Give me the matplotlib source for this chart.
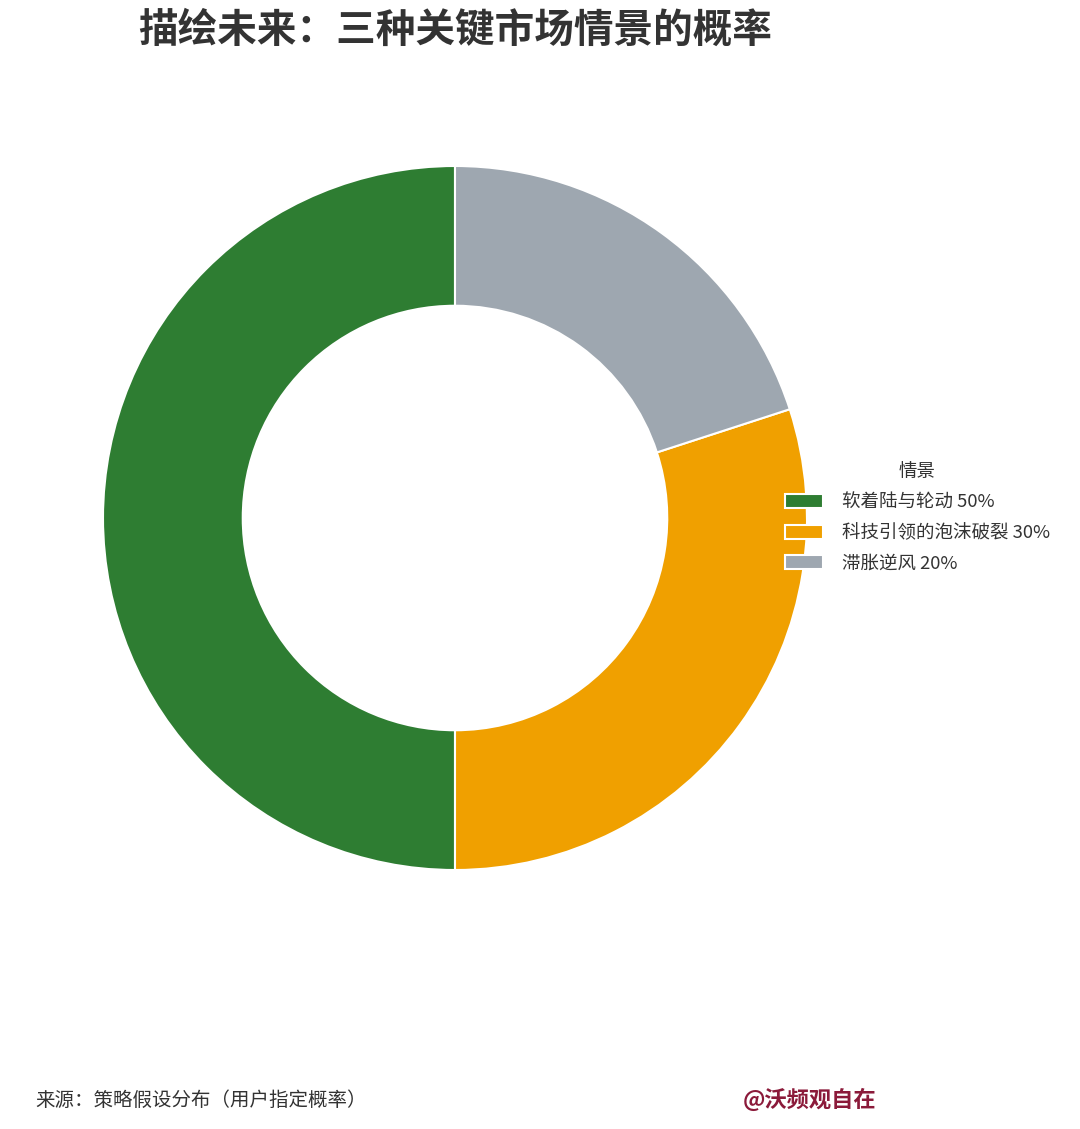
import matplotlib
matplotlib.use("Agg")
import matplotlib.pyplot as plt

plt.rcParams['font.family'] = ['Noto Sans CJK SC', 'DejaVu Sans']

labels = ["软着陆与轮动", "科技引领的泡沫破裂", "滞胀逆风"]
values = [50, 30, 20]
colors = ["#2E7D32", "#F0A000", "#9EA7B0"]
title = "描绘未来：三种关键市场情景的概率"
legend_title = "情景"
source = "来源：策略假设分布（用户指定概率）"
watermark = "@沃频观自在"

W, H = 1080, 1129
fig = plt.figure(figsize=(W / 100, H / 100), dpi=100)
cx, cy, r = 455, 518, 352
ax = fig.add_axes([(cx - r) / W, (H - cy - r) / H, 2 * r / W, 2 * r / H])
wedges, _ = ax.pie(values, colors=colors, startangle=90, counterclock=True,
                   radius=1.0, wedgeprops=dict(width=0.397, edgecolor="white", linewidth=1.5))
ax.set_xlim(-1, 1)
ax.set_ylim(-1, 1)
ax.set_aspect("equal")
ax.axis("off")

leg_labels = [f"{l} {v}%" for l, v in zip(labels, values)]
leg = fig.legend(wedges, leg_labels, title=legend_title, loc="center left",
                 bbox_to_anchor=(768 / W, 1 - 518 / H), frameon=False,
                 fontsize=13.3, title_fontsize=13.3, handlelength=2.1,
                 handleheight=0.8, labelspacing=0.68, handletextpad=1.0)
for t in leg.get_texts():
    t.set_color("#333333")
leg.get_title().set_color("#333333")

fig.text(455 / W, 1 - 30 / H, title, ha="center", va="center", fontsize=28.5,
         fontweight="bold", color="#333333")
fig.text(35 / W, 1 - 1100 / H, source, ha="left", va="center", fontsize=14,
         color="#333333")
fig.text(743 / W, 1 - 1100 / H, watermark, ha="left", va="center", fontsize=16,
         fontweight="bold", color="#8B1A3A")

fig.savefig("out.png", dpi=100, facecolor="white")
